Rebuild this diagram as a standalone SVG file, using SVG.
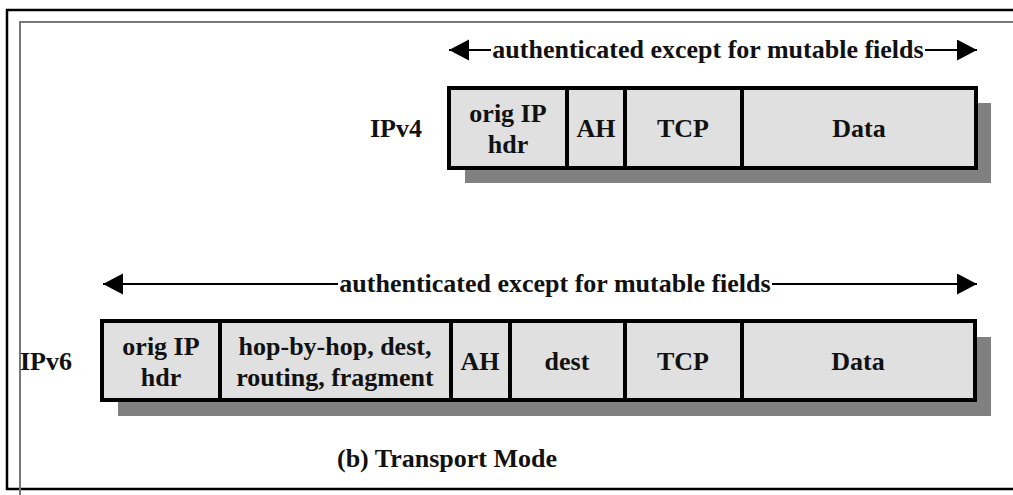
<svg xmlns="http://www.w3.org/2000/svg" width="1013" height="495" viewBox="0 0 1013 495">
  <style>
    text { font-weight: bold; font-size: 26px; fill: #111; }
    .c { text-anchor: middle; }
    .cell { fill: #e0e0e0; stroke: #000; stroke-width: 4; }
    .div { stroke: #000; stroke-width: 4; }
    .shadow { fill: #808080; }
    .conn { stroke: #000; stroke-width: 2; fill: none; marker-end: url(#head); }
  </style>
  <defs>
    <marker id="head" markerUnits="userSpaceOnUse" markerWidth="21" markerHeight="22" refX="20" refY="10.5" orient="auto">
      <path d="M0,0 L20,10.5 L0,21 Z" fill="#000"/>
    </marker>
  </defs>

  <rect width="1013" height="495" fill="#fff"/>

  <!-- frame -->
  <g id="frame" fill="none">
    <path d="M1013,10 H7 V489 H1013" stroke="#000" stroke-width="2.5"/>
    <path d="M1013,22 H20 V495" stroke="#777" stroke-width="2"/>
  </g>

  <g font-family="'Liberation Serif', 'Times New Roman', Times, serif">
    <!-- IPv4 packet -->
    <g id="ipv4">
      <text x="370" y="137">IPv4</text>
      <rect class="shadow" x="465" y="103" width="526" height="80"/>
      <rect class="cell" x="449" y="88" width="527" height="80"/>
      <line class="div" x1="567" y1="88" x2="567" y2="168"/>
      <line class="div" x1="625" y1="88" x2="625" y2="168"/>
      <line class="div" x1="742" y1="88" x2="742" y2="168"/>
      <text class="c" x="508" y="122">orig IP</text>
      <text class="c" x="508" y="153">hdr</text>
      <text class="c" x="596" y="137">AH</text>
      <text class="c" x="683" y="137">TCP</text>
      <text class="c" x="859" y="137">Data</text>
    </g>

    <!-- IPv6 packet -->
    <g id="ipv6">
      <text x="20" y="370">IPv6</text>
      <rect class="shadow" x="118" y="337" width="873" height="79"/>
      <rect class="cell" x="102" y="321" width="873" height="79"/>
      <line class="div" x1="220" y1="321" x2="220" y2="400"/>
      <line class="div" x1="451" y1="321" x2="451" y2="400"/>
      <line class="div" x1="510" y1="321" x2="510" y2="400"/>
      <line class="div" x1="625" y1="321" x2="625" y2="400"/>
      <line class="div" x1="742" y1="321" x2="742" y2="400"/>
      <text class="c" x="161" y="355">orig IP</text>
      <text class="c" x="161" y="386">hdr</text>
      <text class="c" x="335" y="355">hop-by-hop, dest,</text>
      <text class="c" x="335" y="386">routing, fragment</text>
      <text class="c" x="480" y="370">AH</text>
      <text class="c" x="567" y="370">dest</text>
      <text class="c" x="683" y="370">TCP</text>
      <text class="c" x="858" y="370">Data</text>
    </g>

    <!-- coverage arrows -->
    <g id="connectors">
      <line class="conn" x1="491" y1="50" x2="449" y2="50"/>
      <line class="conn" x1="925" y1="50" x2="977" y2="50"/>
      <line class="conn" x1="338" y1="284" x2="103" y2="284"/>
      <line class="conn" x1="772" y1="284" x2="977" y2="284"/>
    </g>
    <g id="labels">
      <text class="c" x="708" y="58">authenticated except for mutable fields</text>
      <text class="c" x="555" y="292">authenticated except for mutable fields</text>
      <text class="c" x="447" y="467">(b) Transport Mode</text>
    </g>
  </g>
</svg>
